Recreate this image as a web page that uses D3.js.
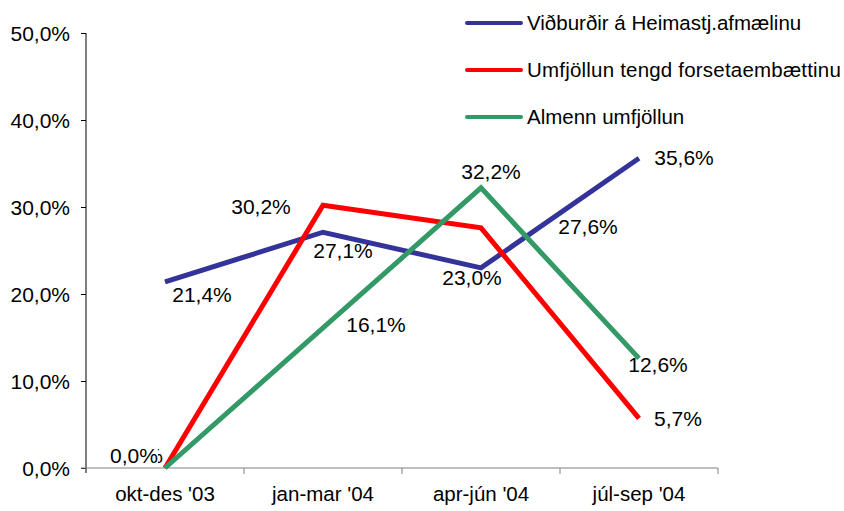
<!DOCTYPE html>
<html>
<head>
<meta charset="utf-8">
<script src="https://cdn.jsdelivr.net/npm/d3@7"></script>
<style>
  body { margin: 0; background: #fff; }
  svg text { font-family: "Liberation Sans", Arial, sans-serif; fill: #000; }
</style>
</head>
<body>
<svg id="chart" width="844" height="511"></svg>
<script>
// categories + series
const categories = ["okt-des '03", "jan-mar '04", "apr-jún '04", "júl-sep '04"];
const seriesNames = ["Viðburðir á Heimastj.afmælinu", "Umfjöllun tengd forsetaembættinu", "Almenn umfjöllun"];
const blueValues = [21.4, 27.1, 23.0, 35.6];
const redValues = [0.0, 30.2, 27.6, 5.7];
const greenValues = [0.0, 16.1, 32.2, 12.6];
const yTicks = [0, 10, 20, 30, 40, 50];

const colors = ["#333399", "#ff0000", "#339966"];
const allValues = [blueValues, redValues, greenValues];

// where each data label sits relative to its point [dx, dy]
const labelOffsets = [
  [[37, 20], [20, 26], [-9, 17], [45, 7]],
  [[-31, -5], [-62, 9], [107, 6], [39, 8]],
  [[-26, -5], [53, 4], [10, -9], [19, 14]]
];

const locale = d3.formatLocale({decimal: ",", thousands: ".", grouping: [3], currency: ["", ""]});
const fmt = v => locale.format(".1f")(v) + "%";

const svg = d3.select("#chart");
const margin = {left: 86, top: 33, right: 126, bottom: 43};
const W = 844, H = 511;

const x = d3.scaleBand().domain(categories).range([margin.left, 718]);
const y = d3.scaleLinear().domain([0, 50]).range([H - margin.bottom, margin.top]);

// y axis
const yAxis = svg.append("g").attr("transform", `translate(${margin.left},0)`)
  .call(d3.axisLeft(y).tickValues(yTicks).tickSize(5).tickPadding(11).tickFormat(fmt));
yAxis.select(".domain").attr("stroke", "#000").attr("d", `M0,${y(50)}V${y(0) + 5}`);
yAxis.selectAll(".tick line").attr("stroke", "#000");
yAxis.selectAll(".tick text").attr("font-size", 21).attr("dy", "0.36em");

// x axis (gray)
const xAxis = svg.append("g").attr("transform", `translate(0,${y(0)})`)
  .call(d3.axisBottom(x).tickSize(0).tickPadding(18));
xAxis.select(".domain").attr("stroke", "#808080").attr("d", `M${margin.left - 5},0H${x.range()[1]}`);
xAxis.selectAll(".tick text").attr("font-size", 20.5);
xAxis.selectAll(".sep").data(categories.map(c => x(c) + x.bandwidth()))
  .join("line").attr("class", "sep")
  .attr("x1", d => d).attr("x2", d => d).attr("y1", 0).attr("y2", 6)
  .attr("stroke", "#808080");

const cx = c => x(c) + x.bandwidth() / 2;
const line = d3.line().x((d, i) => cx(categories[i])).y(d => y(d));

// lines
allValues.forEach((vals, s) => {
  svg.append("path").datum(vals)
    .attr("fill", "none").attr("stroke", colors[s]).attr("stroke-width", 5)
    .attr("stroke-linejoin", "miter").attr("d", line);
});

// data labels (green drawn first so the red 0,0% box sits on top of it)
const labels = svg.append("g").attr("font-size", 21).attr("text-anchor", "middle");
[2, 0, 1].forEach(s => {
  allValues[s].forEach((v, i) => {
    const off = labelOffsets[s][i];
    const px = cx(categories[i]) + off[0], py = y(v) + off[1];
    const t = labels.append("text").attr("x", px).attr("y", py).text(fmt(v));
    if (v === 0 && s === 1) {
      const bb = t.node().getBBox();
      labels.insert("rect", () => t.node())
        .attr("x", bb.x - 1).attr("y", bb.y + 2).attr("width", bb.width + 1).attr("height", bb.height - 2)
        .attr("fill", "#fff");
    }
  });
});

// legend
const legend = svg.append("g");
seriesNames.forEach((name, i) => {
  const ly = 23 + i * 47;
  legend.append("line").attr("x1", 467).attr("x2", 521).attr("y1", ly).attr("y2", ly)
    .attr("stroke", colors[i]).attr("stroke-width", 4).attr("stroke-linecap", "round");
  legend.append("text").attr("x", 527).attr("y", ly + 7).attr("font-size", 20.5)
    .attr("letter-spacing", i === 1 ? 0.2 : 0).text(name);
});
</script>
</body>
</html>
